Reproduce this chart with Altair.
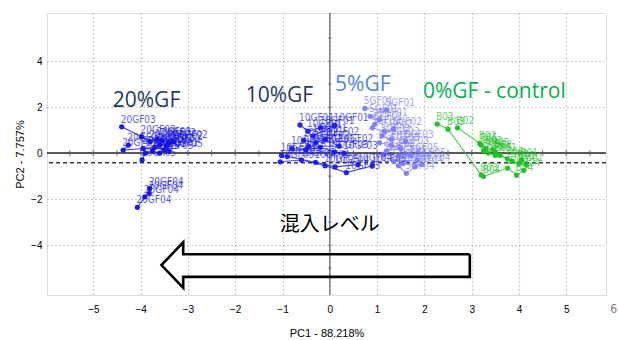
import altair as alt
import pandas as pd

# ---- sample scores (PC1, PC2), one entry per replicate -------------------
gf20_sample = ["20GF01"] * 5 + ["20GF02"] * 5 + ["20GF03"] * 4 + ["20GF05"] * 5 + ["20GF04"] * 4
gf20_x = [-4.26, -4.37, -3.95, -3.70, -3.50,
          -3.55, -3.40, -3.30, -3.60, -3.45,
          -4.40, -3.98, -3.80, -3.65,
          -3.97, -3.90, -3.75, -3.60, -3.40,
          -3.81, -3.82, -3.91, -4.07]
gf20_y = [0.35, 0.13, 0.20, 0.25, 0.15,
          0.55, 0.45, 0.50, 0.35, 0.30,
          1.14, 0.71, 0.50, 0.60,
          -0.30, 0.00, 0.10, 0.00, 0.10,
          -1.54, -1.75, -1.90, -2.36]

gf10_sample = ["10GF01"] * 5 + ["10GF02"] * 5 + ["10GF03"] * 5 + ["10GF04"] * 5 + ["10GF05"] * 5
gf10_x = [-0.63, -0.46, -0.20, 0.10, -0.35,
          -0.55, -0.30, -0.10, 0.20, -0.45,
          -0.80, -0.50, -0.20, 0.10, 0.30,
          -1.02, -0.90, -0.30, 0.11, 0.60,
          -1.05, -0.60, -0.10, 0.35, 0.90]
gf10_y = [1.22, 0.95, 1.10, 1.20, 0.75,
          0.55, 0.45, 0.60, 0.30, 0.30,
          0.20, 0.15, 0.25, 0.05, 0.00,
          -0.10, -0.15, -0.40, -0.60, -0.50,
          -0.38, -0.30, -0.55, -0.85, -0.55]

gf5_sample = ["5GF01"] * 5 + ["5GF02"] * 5 + ["5GF03"] * 5 + ["5GF05"] * 5 + ["5GF04"] * 5
gf5_x = [0.74, 1.20, 0.85, 1.05, 0.95,
         0.90, 1.15, 1.35, 1.10, 1.30,
         1.05, 1.30, 1.50, 1.20, 1.60,
         1.15, 1.45, 1.70, 1.35, 1.85,
         1.45, 1.62, 1.80, 1.95, 1.55]
gf5_y = [1.94, 1.87, 1.60, 1.45, 1.25,
         1.10, 0.95, 1.05, 0.75, 0.60,
         0.45, 0.35, 0.20, 0.10, 0.50,
         -0.05, -0.15, -0.10, -0.35, -0.30,
         -0.55, -0.88, -0.60, -0.50, -0.45]

ctrl_sample = ["B03"] * 3 + ["B02"] * 5 + ["B05"] * 5 + ["B01"] * 5 + ["B04"] * 4
ctrl_x = [2.27, 2.50, 3.20,
          2.70, 3.17, 3.30, 3.50, 3.75,
          3.20, 3.25, 3.35, 3.50, 3.45,
          3.60, 3.85, 4.00, 4.16, 4.05,
          3.25, 3.76, 3.95, 4.10]
ctrl_y = [1.26, 1.04, -0.95,
          1.10, 0.42, 0.20, 0.05, -0.25,
          0.35, 0.10, 0.00, -0.10, 0.15,
          -0.10, -0.35, -0.45, -0.52, -0.30,
          -1.02, -0.65, -0.96, -0.75]

groups = ["20GF", "10GF", "5GF", "B"]
group_colors = ["#1212e8", "#1a1af2", "#7c7cff", "#1dbf24"]

# ---- annotations ------------------------------------------------------------
note_text = ["20%GF", "10%GF", "5%GF", "0%GF - control"]
note_x = [-4.59, -1.78, 0.11, 1.97]
note_y = [2.00, 2.22, 2.70, 2.39]
note_color = ["#1f3864", "#1f3864", "#4f86d9", "#00b050"]

level_text = "混入レベル"
level_x = 0.0
level_y = -3.40

# outline of the "level" arrow (points left)
arrow_x = [2.96, -3.10, -3.10, -3.56, -3.10, -3.10, 2.96, 2.96]
arrow_y = [-4.40, -4.40, -3.88, -4.87, -5.86, -5.38, -5.38, -4.40]

x_ticks = [-5, -4, -3, -2, -1, 0, 1, 2, 3, 4, 5]
y_ticks = [-4, -2, 0, 2, 4]
x_minor = [v / 2 for v in range(-11, 12)]
y_minor = [-5, -4, -3, -2, -1, 1, 2, 3, 4, 5]
mean_line_y = -0.42

X_DOMAIN = [-5.98, 5.84]
Y_DOMAIN = [-6.17, 6.09]
W, H = 559, 282

NARROW = "Liberation Sans Narrow, Arial Narrow, DejaVu Sans Condensed, sans-serif"
AXIS_GREY = "#7a7a7a"

# ---- assemble point table ----------------------------------------------------
rows = []
for grp, names, xs, ys in [("20GF", gf20_sample, gf20_x, gf20_y),
                           ("10GF", gf10_sample, gf10_x, gf10_y),
                           ("5GF", gf5_sample, gf5_x, gf5_y),
                           ("B", ctrl_sample, ctrl_x, ctrl_y)]:
    seen = {}
    for n, x, y in zip(names, xs, ys):
        seen[n] = seen.get(n, 0) + 1
        rows.append({"group": grp, "sample": n, "rep": seen[n], "pc1": x, "pc2": y})
pts = pd.DataFrame(rows)

xs = alt.Scale(domain=X_DOMAIN, nice=False, zero=False)
ys = alt.Scale(domain=Y_DOMAIN, nice=False, zero=False)
cs = alt.Scale(domain=groups, range=group_colors)

base = alt.Chart(pts)

axes = alt.Chart(pd.DataFrame({"pc1": [0.0], "pc2": [0.0]})).mark_point(opacity=0).encode(
    x=alt.X("pc1:Q", scale=xs, title="PC1 - 88.218%",
            axis=alt.Axis(values=x_ticks, grid=True, gridDash=[1, 3], gridColor="#9a9a9a",
                          gridWidth=1.2, ticks=False, domain=False, labelPadding=9,
                          titlePadding=13, titleFontWeight=400)),
    y=alt.Y("pc2:Q", scale=ys, title="PC2 - 7.757%",
            axis=alt.Axis(values=y_ticks, grid=True, gridDash=[1, 3], gridColor="#9a9a9a",
                          gridWidth=1.2, ticks=False, domain=False, labelPadding=5,
                          titlePadding=5, titleFontWeight=400)),
)

zero_h = alt.Chart(pd.DataFrame({"v": [0.0]})).mark_rule(color="#5a5a5a", strokeWidth=2).encode(
    y=alt.Y("v:Q", scale=ys))
zero_v = alt.Chart(pd.DataFrame({"v": [0.0]})).mark_rule(color="#6a6a6a", strokeWidth=1.3).encode(
    x=alt.X("v:Q", scale=xs))
mean_h = alt.Chart(pd.DataFrame({"v": [mean_line_y]})).mark_rule(
    color="#3a3a3a", strokeWidth=1.5, strokeDash=[4, 3]).encode(y=alt.Y("v:Q", scale=ys))

ticks_h = alt.Chart(pd.DataFrame({"v": x_minor})).mark_tick(
    color="#5a5a5a", size=6, thickness=1.2, orient="vertical").encode(
    x=alt.X("v:Q", scale=xs), y=alt.datum(0.0, scale=ys))
ticks_v = alt.Chart(pd.DataFrame({"v": y_minor})).mark_tick(
    color="#6a6a6a", size=4, thickness=1, orient="horizontal").encode(
    y=alt.Y("v:Q", scale=ys), x=alt.datum(0.0, scale=xs))

links = base.mark_line(strokeWidth=1.1, opacity=0.8).encode(
    x=alt.X("pc1:Q", scale=xs), y=alt.Y("pc2:Q", scale=ys),
    color=alt.Color("group:N", scale=cs, legend=None),
    detail="sample:N", order="rep:Q")

dots = base.mark_circle(size=28, opacity=0.95).encode(
    x=alt.X("pc1:Q", scale=xs), y=alt.Y("pc2:Q", scale=ys),
    color=alt.Color("group:N", scale=cs, legend=None))

names = base.mark_text(align="left", baseline="bottom", dx=-1, dy=-2, fontSize=10,
                       font=NARROW, opacity=0.7).encode(
    x=alt.X("pc1:Q", scale=xs), y=alt.Y("pc2:Q", scale=ys),
    color=alt.Color("group:N", scale=cs, legend=None), text="sample:N")

arrow_df = pd.DataFrame({"ax": arrow_x, "ay": arrow_y, "k": list(range(len(arrow_x)))})
arrow = alt.Chart(arrow_df).mark_line(color="black", strokeWidth=2.6, strokeJoin="miter").encode(
    x=alt.X("ax:Q", scale=xs), y=alt.Y("ay:Q", scale=ys), order="k:Q")

notes_df = pd.DataFrame({"t": note_text, "nx": note_x, "ny": note_y, "c": note_color})
notes = alt.Chart(notes_df).mark_text(align="left", baseline="alphabetic", fontSize=21,
                                      font="Open Sans").encode(
    x=alt.X("nx:Q", scale=xs), y=alt.Y("ny:Q", scale=ys),
    text="t:N", color=alt.Color("c:N", scale=None))

level = alt.Chart(pd.DataFrame({"t": [level_text], "lx": [level_x], "ly": [level_y]})).mark_text(
    align="center", baseline="alphabetic", fontSize=20, font="Noto Sans CJK JP", color="black").encode(
    x=alt.X("lx:Q", scale=xs), y=alt.Y("ly:Q", scale=ys), text="t:N")

last_tick = alt.Chart(pd.DataFrame({"t": ["6"], "v": [6.0]})).mark_text(
    baseline="top", fontSize=12, font=NARROW, color=AXIS_GREY, clip=False).encode(
    x=alt.X("v:Q", scale=xs), y=alt.value(H + 9), text="t:N")

chart = alt.layer(
    axes, zero_h, zero_v, mean_h, ticks_h, ticks_v,
    links, dots, names, arrow, notes, level, last_tick,
).properties(
    width=W, height=H,
    autosize=alt.AutoSizeParams(type="none"),
    padding={"left": 47, "top": 13, "right": 12, "bottom": 45},
).configure_view(
    stroke="#707070", strokeWidth=2,
).configure_axis(
    labelFont=NARROW, labelFontSize=12, labelColor=AXIS_GREY,
    titleFont=NARROW, titleFontSize=12, titleColor=AXIS_GREY, titleFontWeight=400,
).configure(background="white")

chart.save("out.html", embed_options={"renderer": "svg", "actions": False})
